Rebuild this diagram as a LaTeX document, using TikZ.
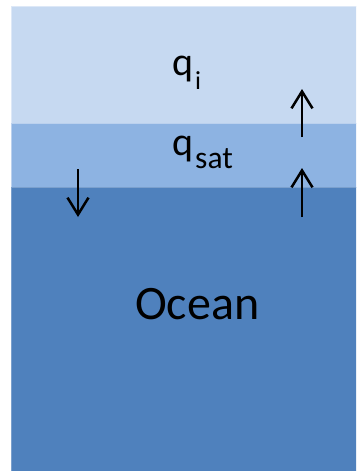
\documentclass[tikz,border=0pt]{standalone}
\usepackage{fontspec}
\setmainfont{Carlito}
\usetikzlibrary{arrows.meta}
\definecolor{airblue}{HTML}{C6D9F1}
\definecolor{skinblue}{HTML}{8DB3E2}
\definecolor{oceanblue}{HTML}{4F81BD}
\tikzset{
  band/.style={line width=0.8pt},
  flux/.style={line width=2.5pt, -{Straight Barb[length=17pt,width=21pt,line width=2.5pt]}},
  label/.style={inner sep=0pt, anchor=base west, text=black},
}
\begin{document}
\begin{tikzpicture}[x=1pt,y=-1pt]
  \useasboundingbox (0,0) rectangle (356,471);
  \begin{scope}
    \clip (0,0) rectangle (356,471);
    % atmosphere, saturated skin layer and ocean body
    \draw[band, fill=airblue, draw=airblue!60!white] (11.5,6) rectangle (360,123);
    \draw[band, fill=skinblue, draw=skinblue!60!white] (11.5,123) rectangle (360,187);
    \draw[band, fill=oceanblue, draw=oceanblue!75!white] (11.5,187) rectangle (360,476);
  \end{scope}
  % labels
  \node[label] (qi) at (172.5,75) {\fontsize{40}{40}\selectfont q\kern1.5pt\raisebox{-14pt}{\fontsize{26}{26}\selectfont i}};
  \node[label] (qsat) at (172.5,155) {\fontsize{40}{40}\selectfont q\kern1.5pt\raisebox{-13pt}{\fontsize{31.5}{31.5}\selectfont sat}};
  \node[label] (ocean) at (135,319) {\fontsize{48}{48}\selectfont Ocean};
  % flux arrows
  \coordinate (upAfrom) at (302,137);
  \coordinate (upAto) at (302,89);
  \coordinate (upBfrom) at (302,217);
  \coordinate (upBto) at (302,168);
  \coordinate (downfrom) at (78,169);
  \coordinate (downto) at (78,217);
  \draw[flux] (upAfrom) -- (upAto);
  \draw[flux] (upBfrom) -- (upBto);
  \draw[flux] (downfrom) -- (downto);
\end{tikzpicture}
\end{document}
